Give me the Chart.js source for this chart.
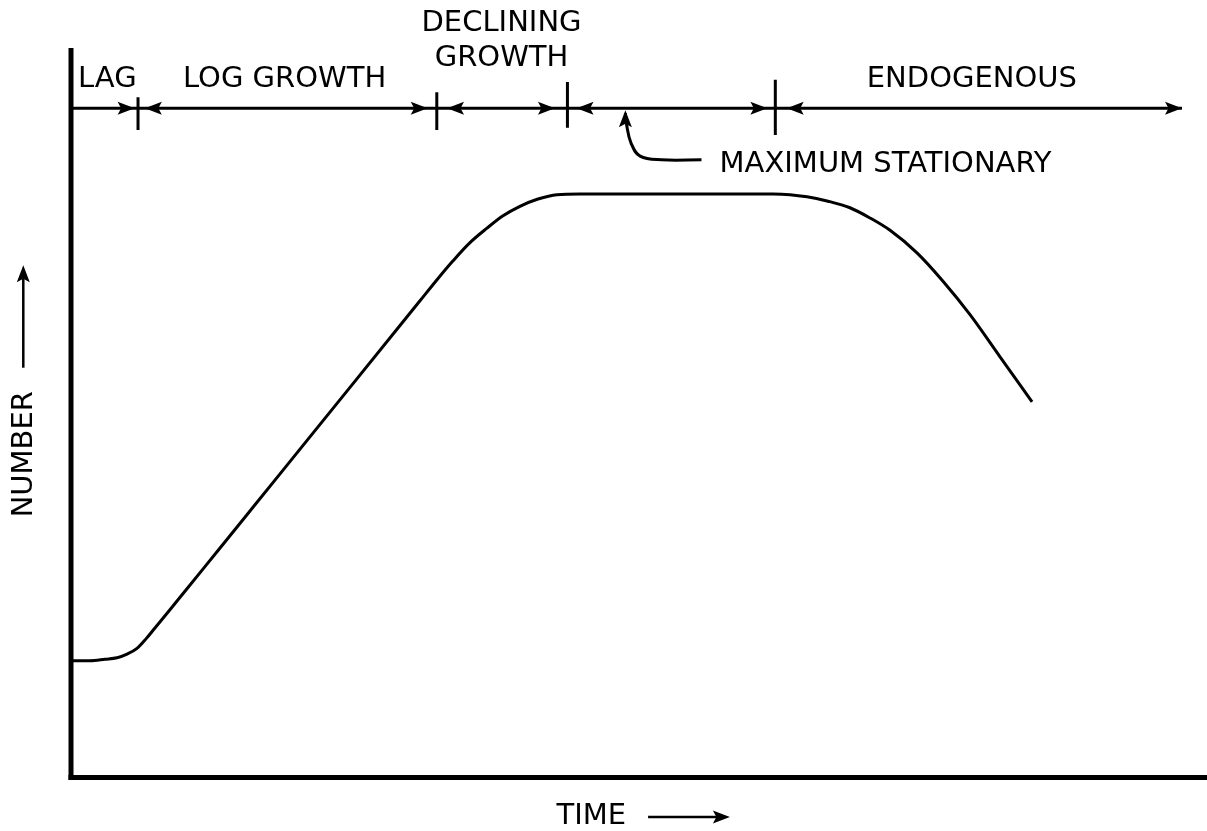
<!DOCTYPE html>
<html>
<head>
<meta charset="utf-8">
<script src="https://cdn.jsdelivr.net/npm/chart.js@4.4.0/dist/chart.umd.min.js"></script>
<style>
    html, body { margin: 0; padding: 0; background: #fff; }
    canvas { display: block; }
</style>
</head>
<body>
<canvas id="growthChart" width="1207" height="831"></canvas>
<script>
// growth curve, both axes on a 0-100 scale
const growthTime = [0, 1.67, 2.99, 4.05, 4.93, 5.81, 6.6, 7.39, 8.71, 10.21, 13.12, 16.02, 20.16, 24.56, 28.96, 30.72, 32.22, 33.63, 35.12, 36.62, 38.03, 39.52, 41.11, 42.78, 44.81, 46.6, 51.0, 55.4, 59.8, 61.8, 63.29, 64.79, 66.64, 68.57, 70.33, 72.1, 74.47, 76.76, 79.14, 81.78, 84.6];
const growthNumber = [16.0, 16.0, 16.2, 16.4, 16.9, 17.7, 19.0, 20.5, 23.0, 25.9, 31.5, 37.1, 45.1, 53.6, 62.1, 65.5, 68.4, 71.0, 73.5, 75.5, 77.2, 78.5, 79.5, 80.1, 80.2, 80.2, 80.2, 80.2, 80.2, 80.2, 80.1, 79.8, 79.2, 78.3, 76.9, 75.2, 72.1, 68.2, 63.6, 57.8, 51.6];

// phase bar across the top
const phaseLineY = 92;
const phaseLineEnd = 97.8;
const phaseBounds = [5.9, 32.2, 43.7, 62.0];
const boundTop = [93.5, 94.2, 95.6, 95.9];
const boundBottom = [89.0, 89.0, 89.3, 88.3];
const phaseArrowX = [5.6, 6.5, 31.4, 33.1, 42.6, 44.5, 61.3, 63.0, 97.8];
const phaseArrowDir = [1, -1, 1, -1, 1, -1, 1, -1, 1];

const phaseLabels = ['LAG', 'LOG GROWTH', 'DECLINING', 'GROWTH', 'ENDOGENOUS', 'MAXIMUM STATIONARY'];
const phaseLabelX = [3.2, 18.8, 37.9, 37.9, 79.3, 71.7];
const phaseLabelY = [96.0, 96.0, 103.6, 98.8, 95.9, 84.3];

// pointer from "MAXIMUM STATIONARY" up to the bar
const pointerX = [55.5, 52.0, 50.1, 49.3, 48.9, 48.8];
const pointerY = [84.9, 84.9, 85.4, 87.2, 89.8, 91.3];
const pointerTip = { x: 48.8, y: 91.7 };

// axis titles
const axisTitles = ['NUMBER', 'TIME'];
const numberTitle = { x: -4.1, y: 44.4 };
const timeTitle = { x: 45.8, y: -5.4 };
const numberArrow = { x: -4.2, from: 56.3, to: 70.4 };
const timeArrow = { y: -5.5, from: 50.8, to: 58.0 };

function toPoints(xs, ys) {
    return xs.map((v, i) => ({ x: v, y: ys[i] }));
}

function boundPoints() {
    let pts = [];
    phaseBounds.forEach((b, i) => {
        pts.push({ x: b, y: boundTop[i] });
        pts.push({ x: b, y: boundBottom[i] });
        pts.push({ x: b, y: null });
    });
    return pts;
}

function drawArrowHead(ctx, px, py, angle) {
    const len = 17, half = 6.5, notch = 3.5;
    ctx.save();
    ctx.translate(px, py);
    ctx.rotate(angle);
    ctx.beginPath();
    ctx.moveTo(0, 0);
    ctx.lineTo(-len, -half);
    ctx.lineTo(-len + notch, 0);
    ctx.lineTo(-len, half);
    ctx.closePath();
    ctx.fill();
    ctx.restore();
}

const sketchPlugin = {
    id: 'sketch',
    afterDatasetsDraw(chart) {
        const { ctx, chartArea } = chart;
        const xs = chart.scales.x;
        const ys = chart.scales.y;
        ctx.save();
        ctx.strokeStyle = '#000';
        ctx.fillStyle = '#000';

        // axes
        ctx.lineWidth = 5;
        ctx.beginPath();
        ctx.moveTo(chartArea.left, chartArea.top - 2);
        ctx.lineTo(chartArea.left, chartArea.bottom + 3);
        ctx.stroke();
        ctx.beginPath();
        ctx.moveTo(chartArea.left - 2.5, chartArea.bottom + 0.5);
        ctx.lineTo(chartArea.right, chartArea.bottom + 0.5);
        ctx.stroke();

        // phase arrows
        const barY = ys.getPixelForValue(phaseLineY);
        phaseArrowX.forEach((v, i) => {
            drawArrowHead(ctx, xs.getPixelForValue(v), barY, phaseArrowDir[i] > 0 ? 0 : Math.PI);
        });
        drawArrowHead(ctx, xs.getPixelForValue(pointerTip.x), ys.getPixelForValue(pointerTip.y), -Math.PI / 2);

        // axis title arrows
        ctx.lineWidth = 2.5;
        const nx = xs.getPixelForValue(numberArrow.x);
        ctx.beginPath();
        ctx.moveTo(nx, ys.getPixelForValue(numberArrow.from));
        ctx.lineTo(nx, ys.getPixelForValue(numberArrow.to) + 8);
        ctx.stroke();
        drawArrowHead(ctx, nx, ys.getPixelForValue(numberArrow.to), -Math.PI / 2);
        const ty = ys.getPixelForValue(timeArrow.y);
        ctx.beginPath();
        ctx.moveTo(xs.getPixelForValue(timeArrow.from), ty);
        ctx.lineTo(xs.getPixelForValue(timeArrow.to) - 8, ty);
        ctx.stroke();
        drawArrowHead(ctx, xs.getPixelForValue(timeArrow.to), ty, 0);

        // labels
        ctx.font = '29px "DejaVu Sans"';
        ctx.textAlign = 'center';
        ctx.textBaseline = 'middle';
        phaseLabels.forEach((t, i) => {
            ctx.fillText(t, xs.getPixelForValue(phaseLabelX[i]), ys.getPixelForValue(phaseLabelY[i]));
        });
        ctx.fillText(axisTitles[1], xs.getPixelForValue(timeTitle.x), ys.getPixelForValue(timeTitle.y));
        ctx.save();
        ctx.translate(xs.getPixelForValue(numberTitle.x), ys.getPixelForValue(numberTitle.y));
        ctx.rotate(-Math.PI / 2);
        ctx.fillText(axisTitles[0], 0, 0);
        ctx.restore();

        ctx.restore();
    }
};

const config = {
    type: 'scatter',
    data: {
        datasets: [
            {
                label: 'growth',
                data: toPoints(growthTime, growthNumber),
                showLine: true,
                borderColor: '#000',
                borderWidth: 3,
                pointRadius: 0,
                cubicInterpolationMode: 'monotone',
                clip: false
            },
            {
                label: 'phases',
                data: [{ x: 0, y: phaseLineY }, { x: phaseLineEnd, y: phaseLineY }],
                showLine: true,
                borderColor: '#000',
                borderWidth: 3,
                pointRadius: 0,
                clip: false
            },
            {
                label: 'bounds',
                data: boundPoints(),
                showLine: true,
                spanGaps: false,
                borderColor: '#000',
                borderWidth: 3,
                pointRadius: 0,
                clip: false
            },
            {
                label: 'pointer',
                data: toPoints(pointerX, pointerY),
                showLine: true,
                borderColor: '#000',
                borderWidth: 3,
                pointRadius: 0,
                tension: 0.4,
                clip: false
            }
        ]
    },
    options: {
        animation: false,
        responsive: false,
        devicePixelRatio: 1,
        layout: {
            padding: { left: 71, top: 50, right: 0, bottom: 54 }
        },
        plugins: {
            legend: { display: false },
            tooltip: { enabled: false }
        },
        scales: {
            x: { type: 'linear', min: 0, max: 100, display: false },
            y: { type: 'linear', min: 0, max: 100, display: false }
        }
    },
    plugins: [sketchPlugin]
};

new Chart(document.getElementById('growthChart'), config);
</script>
</body>
</html>
